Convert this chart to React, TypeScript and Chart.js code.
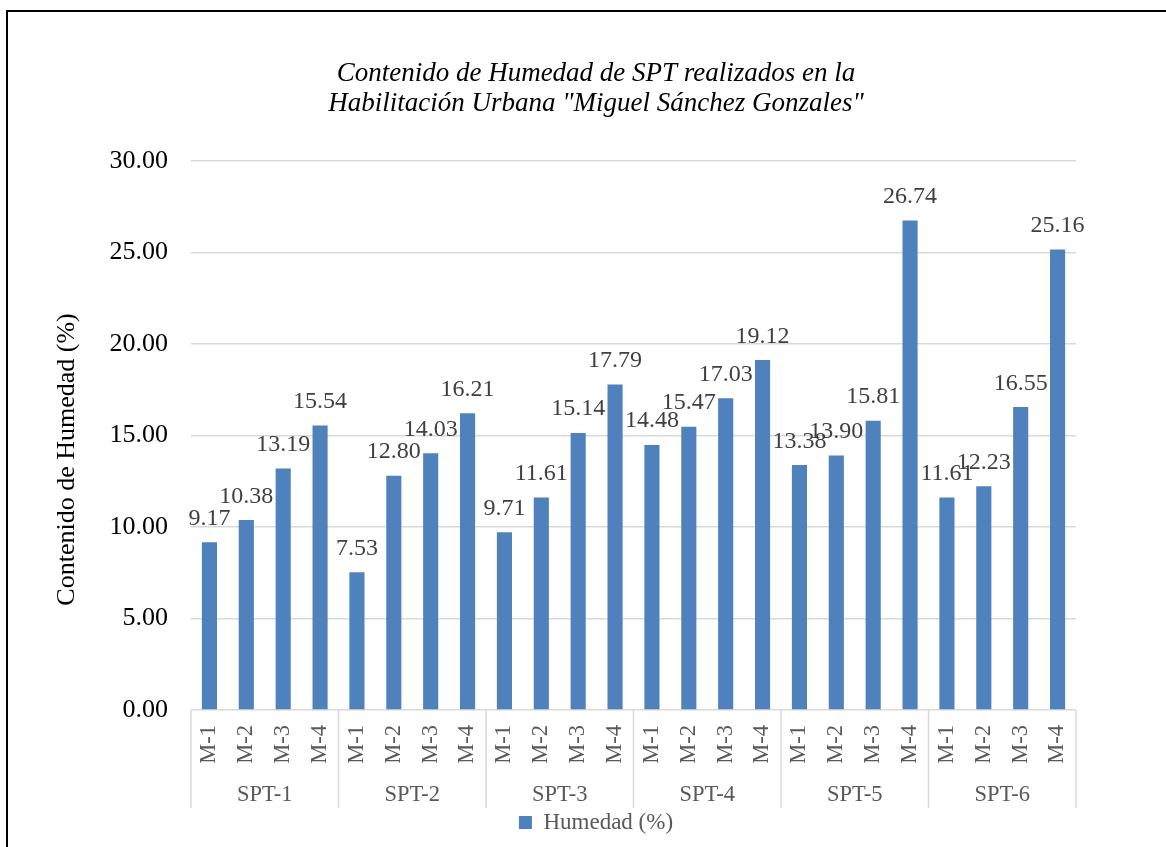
import React, { useEffect, useRef } from "react";
import { Chart, registerables } from "chart.js";

Chart.register(...registerables);

const categories = [
  "M-1", "M-2", "M-3", "M-4",
  "M-1", "M-2", "M-3", "M-4",
  "M-1", "M-2", "M-3", "M-4",
  "M-1", "M-2", "M-3", "M-4",
  "M-1", "M-2", "M-3", "M-4",
  "M-1", "M-2", "M-3", "M-4",
];
const groups = ["SPT-1", "SPT-2", "SPT-3", "SPT-4", "SPT-5", "SPT-6"];
const humedad = [
  9.17, 10.38, 13.19, 15.54,
  7.53, 12.8, 14.03, 16.21,
  9.71, 11.61, 15.14, 17.79,
  14.48, 15.47, 17.03, 19.12,
  13.38, 13.9, 15.81, 26.74,
  11.61, 12.23, 16.55, 25.16,
];
const titleLines = [
  "Contenido de Humedad de SPT realizados en la",
  'Habilitación Urbana "Miguel Sánchez Gonzales"',
];
const yTitle = "Contenido de Humedad (%)";
const seriesName = "Humedad (%)";

const SERIF = "'Liberation Serif', 'Times New Roman', serif";

const dataLabelPlugin = {
  id: "dataLabels",
  afterDatasetsDraw(chart: any) {
    const ctx = chart.ctx;
    const meta = chart.getDatasetMeta(0);
    ctx.save();
    ctx.font = `24px ${SERIF}`;
    ctx.fillStyle = "#404040";
    ctx.textAlign = "center";
    ctx.textBaseline = "alphabetic";
    meta.data.forEach((bar: any, i: number) => {
      const v = chart.data.datasets[0].data[i] as number;
      ctx.fillText(v.toFixed(2), bar.x, bar.y - 17.5);
    });
    ctx.restore();
  },
};

const yTitlePlugin = {
  id: "yTitle",
  afterDraw(chart: any) {
    const ctx = chart.ctx;
    const ys = chart.scales.y;
    const area = chart.chartArea;
    ctx.save();
    ctx.translate(ys.left + 27, (area.top + area.bottom) / 2 + 24);
    ctx.rotate(-Math.PI / 2);
    ctx.font = `26px ${SERIF}`;
    ctx.fillStyle = "#000";
    ctx.textAlign = "center";
    ctx.textBaseline = "middle";
    ctx.fillText(yTitle, 0, 0);
    ctx.restore();
  },
};

const groupSeparatorPlugin = {
  id: "groupSeparators",
  afterDraw(chart: any) {
    const ctx = chart.ctx;
    const xs = chart.scales.x;
    const x2 = chart.scales.x2;
    const n = groups.length;
    const per = categories.length / n;
    ctx.save();
    ctx.strokeStyle = "#d9d9d9";
    ctx.lineWidth = 1.5;
    for (let i = 0; i <= n; i++) {
      const px = xs.getPixelForValue(i * per - 0.5);
      ctx.beginPath();
      ctx.moveTo(px, chart.chartArea.bottom);
      ctx.lineTo(px, x2.bottom);
      ctx.stroke();
    }
    ctx.restore();
  },
};

export default function App() {
  const ref = useRef<HTMLCanvasElement>(null);

  useEffect(() => {
    if (!ref.current) return;
    const chart = new Chart(ref.current, {
      type: "bar",
      data: {
        labels: categories,
        datasets: [
          {
            label: seriesName,
            data: humedad,
            backgroundColor: "#4F81BD",
            borderWidth: 0,
            categoryPercentage: 1,
            barPercentage: 0.41,
            xAxisID: "x",
            yAxisID: "y",
          },
        ],
      },
      options: {
        animation: false,
        responsive: false,
        layout: { padding: { left: 40, right: 14, top: 0, bottom: 3 } },
        plugins: {
          title: {
            display: true,
            text: titleLines,
            color: "#000",
            font: { family: SERIF, size: 27, style: "italic", weight: "normal", lineHeight: 1.11 },
            padding: { top: 59, bottom: 42 },
          },
          legend: {
            display: true,
            position: "bottom",
            labels: {
              color: "#595959",
              font: { family: SERIF, size: 23 },
              boxWidth: 13,
              boxHeight: 13,
              padding: 3,
            },
          },
          tooltip: { enabled: false },
        },
        scales: {
          x: {
            type: "category",
            offset: true,
            grid: { display: false, drawTicks: false },
            border: { display: false },
            ticks: {
              autoSkip: false,
              minRotation: 90,
              maxRotation: 90,
              padding: 15,
              color: "#595959",
              font: { family: SERIF, size: 22.5 },
            },
            afterFit: (s: any) => {
              s.height = 63;
            },
          },
          x2: {
            type: "category",
            labels: groups,
            position: "bottom",
            offset: true,
            grid: { display: false, drawTicks: false },
            border: { display: false },
            ticks: {
              padding: 9,
              color: "#595959",
              font: { family: SERIF, size: 22.5 },
            },
            afterFit: (s: any) => {
              s.height = 35;
            },
          },
          y: {
            position: "left",
            min: 0,
            max: 30,
            grid: { color: "#d9d9d9", lineWidth: 1.5, drawTicks: false },
            border: { display: false },
            ticks: {
              stepSize: 5,
              padding: 23,
              color: "#000",
              font: { family: SERIF, size: 26 },
              callback: (v: any) => Number(v).toFixed(2),
            },
            afterFit: (s: any) => {
              s.width = 151;
            },
          },
          y2: {
            type: "linear",
            position: "right",
            display: true,
            grid: { display: false, drawTicks: false },
            border: { display: false },
            ticks: { display: false },
            afterFit: (s: any) => {
              s.width = 76;
            },
          },
        },
      } as any,
      plugins: [dataLabelPlugin, groupSeparatorPlugin, yTitlePlugin],
    });
    return () => chart.destroy();
  }, []);

  return (
    <div
      style={{
        position: "fixed",
        left: 0,
        top: 0,
        width: 1166,
        height: 847,
        overflow: "hidden",
        background: "#fff",
      }}
    >
      <div
        style={{
          position: "absolute",
          left: 6,
          top: 10,
          width: 2000,
          height: 2000,
          border: "2px solid #000",
          boxSizing: "border-box",
        }}
      />
      <canvas
        ref={ref}
        width={1166}
        height={847}
        style={{ position: "absolute", left: 0, top: 0, width: 1166, height: 847 }}
      />
    </div>
  );
}
